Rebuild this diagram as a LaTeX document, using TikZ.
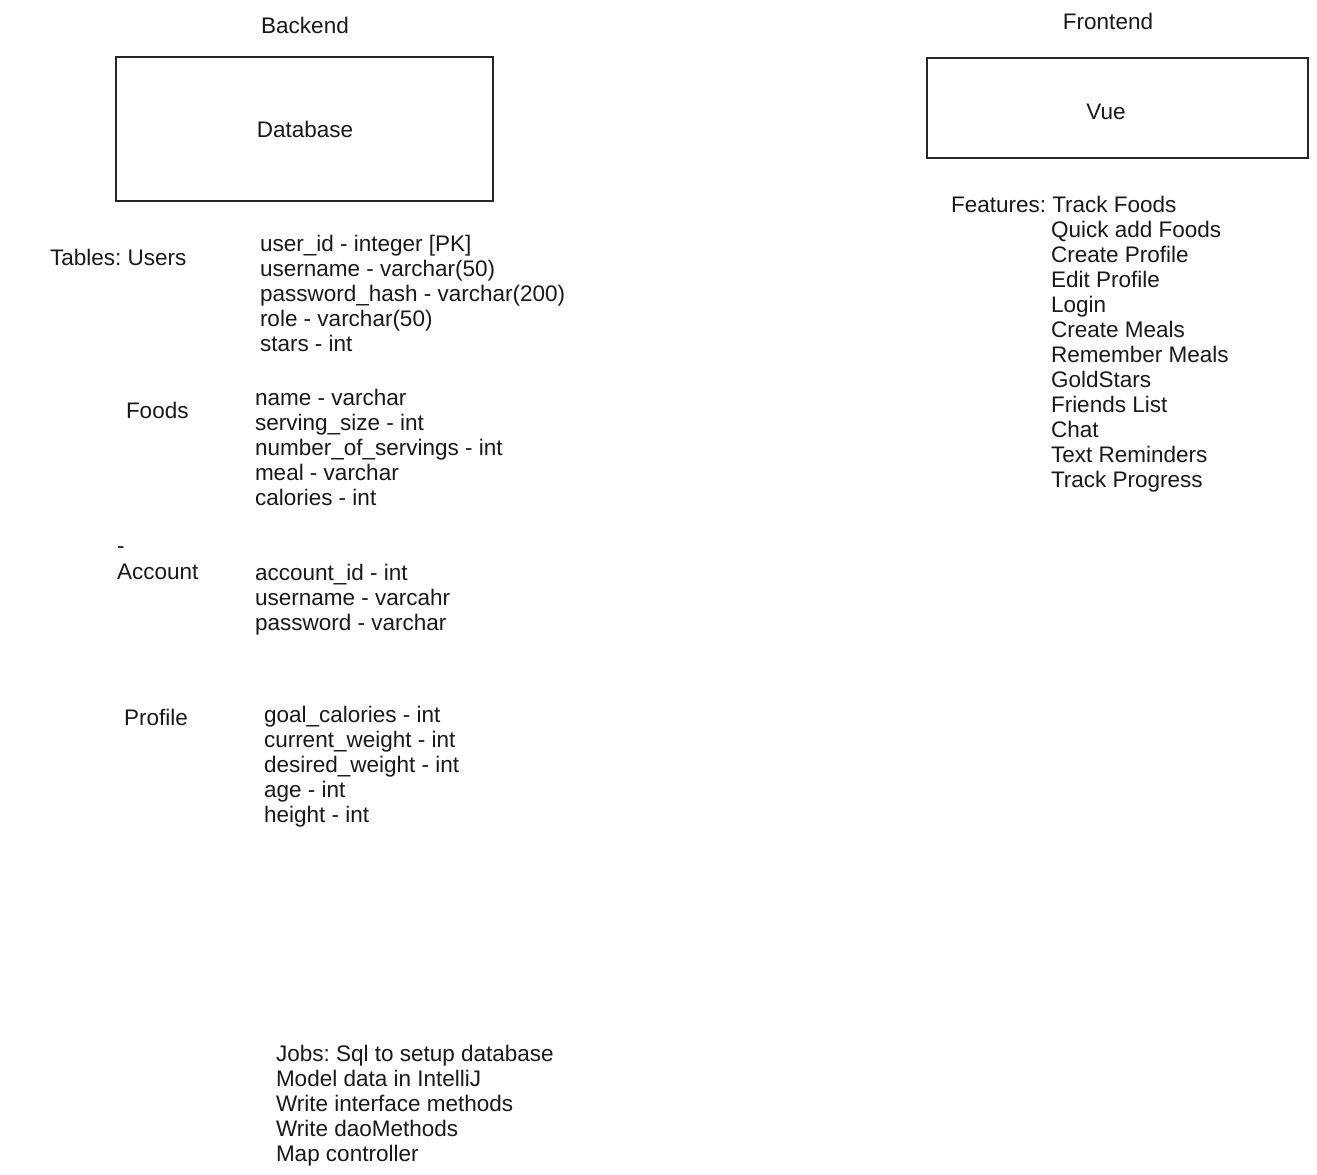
\documentclass[tikz,border=0pt]{standalone}
\usepackage{fontspec}
\setmainfont{Liberation Sans}
\frenchspacing
\begin{document}
\begin{tikzpicture}[x=1pt,y=-1pt,
  every node/.style={inner sep=0pt,outer sep=0pt,text=black!90,font=\fontsize{22.5}{25}\selectfont},
  lbl/.style={anchor=mid west,yshift=-6pt},
  ttl/.style={anchor=mid,yshift=-6pt},
  sketchbox/.style={draw=black!85,line width=1.4pt}]
\useasboundingbox[fill=white] (0,0) rectangle (1317,1175);

% ---------- Backend ----------
\node[ttl] (backend) at (305,25) {Backend};
\draw[sketchbox] (116,57) rectangle (493,201);
\node[ttl] (database) at (305,129) {Database};

% Users table
\node[lbl] (tables) at (50,257) {Tables: Users};
\foreach \t [count=\i] in {user\_id - integer [PK],username - varchar(50),password\_hash - varchar(200),role - varchar(50),stars - int}
  \node[lbl] (users\i) at (260,{243+25*(\i-1)}) {\t};

% Foods table
\node[lbl] (foods) at (126,410) {Foods};
\foreach \t [count=\i] in {name - varchar,serving\_size - int,number\_of\_servings - int,meal - varchar,calories - int}
  \node[lbl] (foods\i) at (255,{397+25*(\i-1)}) {\t};

% Account table
\node[lbl] (dash) at (117,545) {-};
\node[lbl] (account) at (117,571) {Account};
\foreach \t [count=\i] in {account\_id - int,username - varcahr,password - varchar}
  \node[lbl] (account\i) at (255,{572+25*(\i-1)}) {\t};

% Profile table
\node[lbl] (profile) at (124,717) {Profile};
\foreach \t [count=\i] in {goal\_calories - int,current\_weight - int,desired\_weight - int,age - int,height - int}
  \node[lbl] (profile\i) at (264,{714+25*(\i-1)}) {\t};

% Jobs
\foreach \t [count=\i] in {Jobs: Sql to setup database,Model data in IntelliJ,Write interface methods,Write daoMethods,Map controller}
  \node[lbl] (jobs\i) at (276,{1053+25*(\i-1)}) {\t};

% ---------- Frontend ----------
\node[ttl] (frontend) at (1108,21) {Frontend};
\draw[sketchbox] (927,58) rectangle (1308,158);
\node[ttl] (vue) at (1106,111) {Vue};

\node[lbl] (features) at (951,204) {Features: Track Foods};
\foreach \t [count=\i] in {Quick add Foods,Create Profile,Edit Profile,Login,Create Meals,Remember Meals,GoldStars,Friends List,Chat,Text Reminders,Track Progress}
  \node[lbl] (feat\i) at (1051,{229+25*(\i-1)}) {\t};
\end{tikzpicture}
\end{document}
